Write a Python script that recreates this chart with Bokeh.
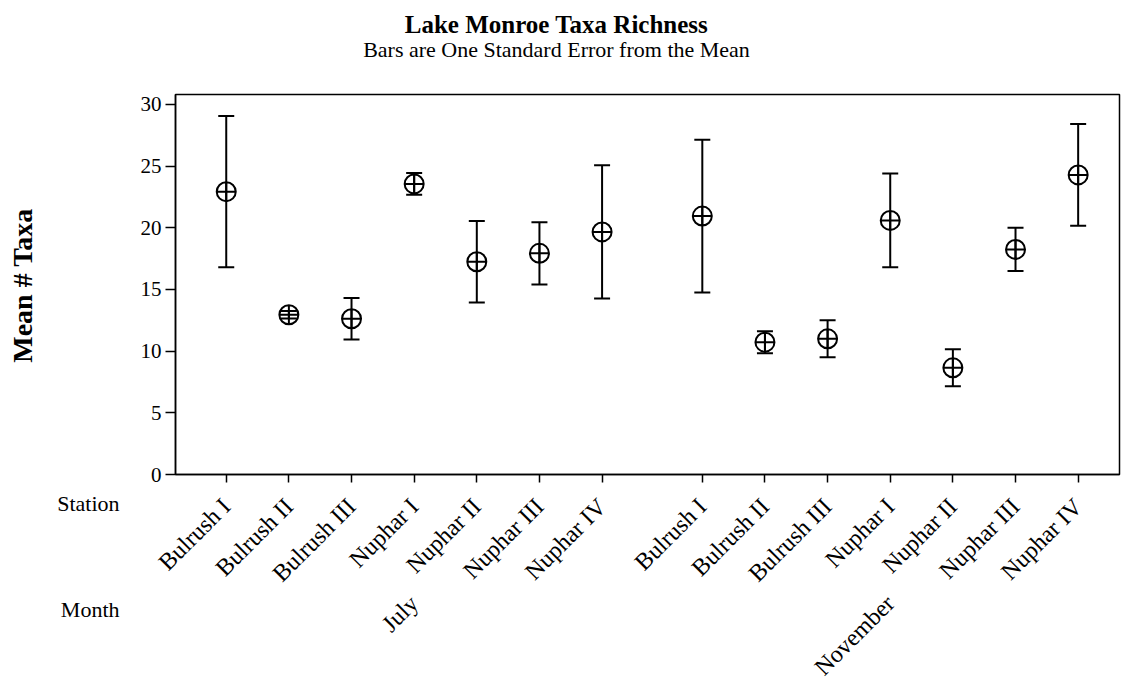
import math
from bokeh.plotting import figure
from bokeh.layouts import column, row
from bokeh.models import (ColumnDataSource, Whisker, TeeHead, FixedTicker,
                          LinearAxis, Range1d)
from bokeh.core.properties import value
from bokeh.embed import file_html
from bokeh.resources import INLINE

# ---------------- data ----------------
title_text = "Lake Monroe Taxa Richness"
subtitle_text = "Bars are One Standard Error from the Mean"
y_label = "Mean # Taxa"
row_labels = ["Station", "Month"]
months = ["July", "November"]
stations = ["Bulrush I", "Bulrush II", "Bulrush III", "Nuphar I",
            "Nuphar II", "Nuphar III", "Nuphar IV"]
july_mean = [22.93, 12.95, 12.63, 23.56, 17.25, 17.93, 19.67]
july_se = [6.13, 0.30, 1.68, 0.88, 3.31, 2.53, 5.40]
november_mean = [20.95, 10.73, 11.00, 20.60, 8.65, 18.25, 24.29]
november_se = [6.19, 0.89, 1.50, 3.80, 1.50, 1.75, 4.12]
y_ticks = [0, 5, 10, 15, 20, 25, 30]

# ---------------- layout constants (page pixels) ----------------
FONT = "Liberation Serif"
GROUP_GAP = 0.6
W, H = 1124, 692
TOP_H = 70          # height of the title strip
LEFT_W = 125        # width of the left label strip
FRAME_L, FRAME_T, FRAME_R, FRAME_B = 175, 94, 1119, 474

xs, ys, se, labels = [], [], [], []
group_centers = []
for g, (m_vals, s_vals) in enumerate([(july_mean, july_se), (november_mean, november_se)]):
    base = g * (len(stations) + GROUP_GAP)
    group_centers.append(round(base + (len(stations) - 1) / 2, 6))
    for i, st in enumerate(stations):
        xs.append(round(base + i, 6))
        ys.append(m_vals[i])
        se.append(s_vals[i])
        labels.append(st)

src = ColumnDataSource(dict(
    x=xs, y=ys,
    upper=[a + b for a, b in zip(ys, se)],
    lower=[a - b for a, b in zip(ys, se)],
))


def blank(width, height, x0, x1, y0, y1):
    f = figure(width=width, height=height, output_backend="svg",
               toolbar_location=None, x_range=Range1d(x0, x1),
               y_range=Range1d(y1, y0), min_border=0, min_border_left=0,
               min_border_right=0, min_border_top=0, min_border_bottom=0,
               frame_align=False)
    f.axis.visible = False
    f.grid.visible = False
    f.outline_line_color = None
    f.background_fill_color = "white"
    f.border_fill_color = "white"
    return f


# ---------- title strip ----------
top = blank(W, TOP_H, 0, W, 0, TOP_H)
top.text(x=[556], y=[24], text=[title_text], text_font=value(FONT),
         text_font_size="25px", text_font_style="bold", text_color="black",
         text_align="center", text_baseline="middle")
top.text(x=[556], y=[49], text=[subtitle_text], text_font=value(FONT),
         text_font_size="22px", text_color="black",
         text_align="center", text_baseline="middle")

# ---------- left label strip ----------
left = blank(LEFT_W, H - TOP_H, 0, LEFT_W, TOP_H, H)
left.text(x=[22], y=[285], text=[y_label], angle=math.pi / 2,
          text_font=value(FONT), text_font_size="28px",
          text_font_style="bold", text_color="black",
          text_align="center", text_baseline="middle")
left.text(x=[119, 119], y=[503, 609], text=row_labels, text_font=value(FONT),
          text_font_size="22px", text_color="black",
          text_align="right", text_baseline="middle")

# ---------- main plot ----------
MW, MH = W - LEFT_W, H - TOP_H
p = figure(width=MW, height=MH, output_backend="svg", toolbar_location=None,
           x_range=Range1d(-0.81, 14.26), y_range=Range1d(0, 30.81),
           min_border_left=FRAME_L - LEFT_W, min_border_right=W - FRAME_R,
           min_border_top=FRAME_T - TOP_H, min_border_bottom=H - FRAME_B,
           background_fill_color="white", border_fill_color="white",
           frame_align=False)
p.xgrid.visible = False
p.ygrid.visible = False
p.outline_line_color = "black"
p.outline_line_width = 1.5
p.outline_line_alpha = 1

# y axis
ya = p.yaxis[0]
ya.ticker = FixedTicker(ticks=y_ticks)
ya.axis_line_width = 1.5
ya.axis_line_color = "black"
ya.major_tick_line_color = "black"
ya.major_tick_line_width = 1.5
ya.major_tick_out = 10
ya.major_tick_in = 0
ya.minor_tick_line_color = None
ya.major_label_text_font = FONT
ya.major_label_text_font_size = "21px"
ya.major_label_text_color = "black"
ya.major_label_standoff = 4

# station axis
xa = p.xaxis[0]
xa.ticker = FixedTicker(ticks=xs)
xa.major_label_overrides = {x: lab for x, lab in zip(xs, labels)}
xa.major_label_orientation = math.pi / 4
xa.axis_line_width = 1.5
xa.axis_line_color = "black"
xa.major_tick_line_color = "black"
xa.major_tick_line_width = 1.5
xa.major_tick_out = 8
xa.major_tick_in = 0
xa.minor_tick_line_color = None
xa.major_label_text_font = FONT
xa.major_label_text_font_size = "24px"
xa.major_label_text_color = "black"
xa.major_label_standoff = 20

# month axis
ma = LinearAxis(ticker=FixedTicker(ticks=group_centers),
                major_label_overrides={x: m for x, m in zip(group_centers, months)})
ma.axis_line_color = None
ma.major_tick_line_color = None
ma.minor_tick_line_color = None
ma.major_label_orientation = math.pi / 4
ma.major_label_text_font = FONT
ma.major_label_text_font_size = "24px"
ma.major_label_text_color = "black"
ma.major_label_standoff = -5
p.add_layout(ma, "below")

# error bars
head = dict(size=16, line_width=2, line_color="black")
p.add_layout(Whisker(source=src, base="x", upper="upper", lower="lower",
                     dimension="height", line_width=2, line_color="black",
                     upper_head=TeeHead(**head), lower_head=TeeHead(**head)))

# means
p.scatter("x", "y", source=src, marker="circle_cross", size=19,
          fill_color=None, line_color="black", line_width=2)

layout = column(top, row(left, p, spacing=0), spacing=0)
open("out.html", "w").write(file_html(layout, INLINE))
